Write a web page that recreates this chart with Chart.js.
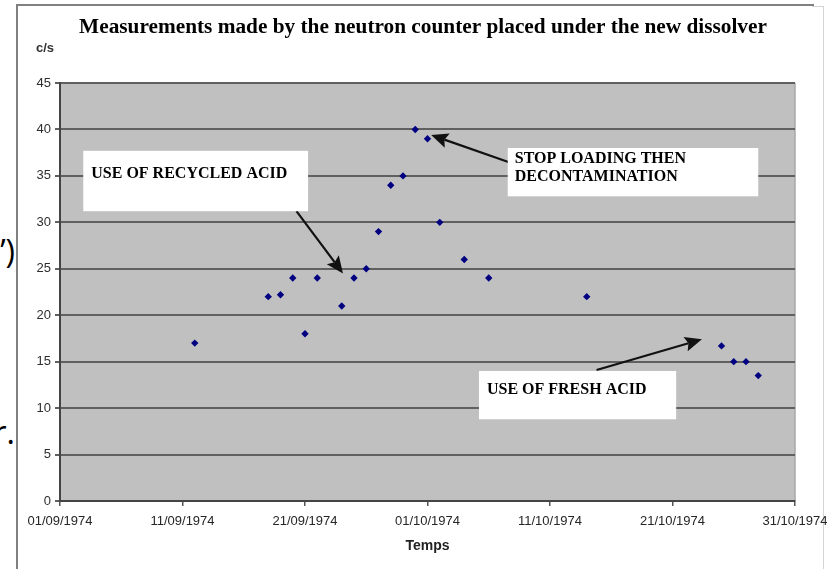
<!DOCTYPE html>
<html>
<head>
<meta charset="utf-8">
<script src="https://cdn.jsdelivr.net/npm/chart.js@4.4.1/dist/chart.umd.min.js"></script>
<style>
html,body{margin:0;padding:0;background:#fff;overflow:hidden;width:827px;height:569px;}
#wrap{position:relative;width:827px;height:569px;overflow:hidden;background:#fff;}
#frame{position:absolute;left:16px;top:4px;width:796px;height:580px;border-left:2px solid #808080;border-top:2px solid #808080;}
#frame2{position:absolute;left:812px;top:6px;width:11px;height:580px;border-top:1px solid #d4d4d4;border-right:1px solid #d4d4d4;}
canvas{position:absolute;left:0;top:0;}
.stray{position:absolute;right:812px;font-family:"Open Sans","Liberation Sans",sans-serif;font-size:32px;line-height:32px;color:#000;white-space:nowrap;text-align:right;}
</style>
</head>
<body>
<div id="wrap">
  <div class="stray" style="top:235px;">’)</div>
  <div class="stray" style="top:416px;">r.</div>
  <div id="frame"></div>
  <div id="frame2"></div>
  <canvas id="c" width="850" height="569"></canvas>
</div>
<script>
// ---- data ----
const dates = ['12/09/1974','18/09/1974','19/09/1974','20/09/1974','21/09/1974','22/09/1974','24/09/1974','25/09/1974','26/09/1974','27/09/1974','28/09/1974','29/09/1974','30/09/1974','01/10/1974','02/10/1974','04/10/1974','06/10/1974','14/10/1974','25/10/1974','26/10/1974','27/10/1974','28/10/1974'];
const counts = [17,22,22.2,24,18,24,21,24,25,29,34,35,40,39,30,26,24,22,16.7,15,15,13.5];
const xTickLabels = ['01/09/1974','11/09/1974','21/09/1974','01/10/1974','11/10/1974','21/10/1974','31/10/1974'];
const chartTitle = 'Measurements made by the neutron counter placed under the new dissolver';
const yUnit = 'c/s';
const xTitle = 'Temps';

// annotations (data coordinates: days since 01/09/1974, c/s)
const notes = [
  {box:[1.9,37.7,20.25,31.2], lines:['USE OF RECYCLED ACID'], arrow:[19.3,31.2,23.1,24.5]},
  {box:[36.55,38.0,57.0,32.8], lines:['STOP LOADING THEN','DECONTAMINATION'], arrow:[36.6,36.5,30.3,39.4]},
  {box:[34.2,14.0,50.3,8.8], lines:['USE OF FRESH ACID'], arrow:[43.8,14.1,52.4,17.4]}
];

const origin = Date.UTC(1974,8,1);
function dayOffset(s){const p=s.split('/').map(Number);return (Date.UTC(p[2],p[1]-1,p[0])-origin)/86400000;}
const points = dates.map((d,i)=>({x:dayOffset(d),y:counts[i]}));

function drawArrow(ctx,x1,y1,x2,y2){
  const a=Math.atan2(y2-y1,x2-x1), L=17, W=7.5, N=3;
  const bx=x2-L*Math.cos(a), by=y2-L*Math.sin(a);
  ctx.beginPath();ctx.moveTo(x1,y1);ctx.lineTo(bx+N*Math.cos(a),by+N*Math.sin(a));
  ctx.lineWidth=2.2;ctx.strokeStyle='#111';ctx.stroke();
  ctx.beginPath();ctx.moveTo(x2,y2);
  ctx.lineTo(bx-W*Math.sin(a),by+W*Math.cos(a));
  ctx.lineTo(bx+N*Math.cos(a),by+N*Math.sin(a));
  ctx.lineTo(bx+W*Math.sin(a),by-W*Math.cos(a));
  ctx.closePath();ctx.fillStyle='#111';ctx.fill();
}

const deco = {
  id:'deco',
  beforeDraw(chart){
    const {ctx,chartArea:a}=chart;
    ctx.save();
    ctx.fillStyle='#C0C0C0';
    ctx.fillRect(a.left,a.top,a.right-a.left,a.bottom-a.top);
    ctx.strokeStyle='#a8a8a8';ctx.lineWidth=1.5;
    ctx.beginPath();ctx.moveTo(a.right,a.top);ctx.lineTo(a.right,a.bottom);ctx.stroke();
    ctx.restore();
  },
  afterDraw(chart){
    const {ctx,scales:{x,y}}=chart;
    ctx.save();
    ctx.fillStyle='#000';
    ctx.font='bold 21.3px "Liberation Serif", serif';
    ctx.textAlign='center';ctx.textBaseline='alphabetic';
    ctx.fillText(chartTitle,423,33);
    ctx.fillStyle='#333';
    ctx.font='bold 13px "Liberation Sans", Arial, sans-serif';
    ctx.textBaseline='middle';
    ctx.fillText(yUnit,45,48);
    notes.forEach(n=>{
      const l=x.getPixelForValue(n.box[0]), t=y.getPixelForValue(n.box[1]);
      const r=x.getPixelForValue(n.box[2]), b=y.getPixelForValue(n.box[3]);
      drawArrow(ctx,x.getPixelForValue(n.arrow[0]),y.getPixelForValue(n.arrow[1]),x.getPixelForValue(n.arrow[2]),y.getPixelForValue(n.arrow[3]));
      ctx.fillStyle='#fff';ctx.fillRect(l,t,r-l,b-t);
      ctx.fillStyle='#000';
      ctx.font='bold 16px "Liberation Serif", serif';
      ctx.textAlign='left';ctx.textBaseline='middle';
      const h=b-t;
      if(n.lines.length===1){ctx.fillText(n.lines[0],l+8,t+h*0.38+0.5);}
      else{n.lines.forEach((s,i)=>ctx.fillText(s,l+7,t+11+i*18));}
    });
    ctx.restore();
  }
};

new Chart(document.getElementById('c'),{
  type:'scatter',
  data:{datasets:[{data:points,pointStyle:'rectRot',pointRadius:3.7,backgroundColor:'#000080',borderColor:'#000080',borderWidth:0}]},
  options:{
    responsive:false,animation:false,devicePixelRatio:1,
    layout:{padding:{left:20,right:55,top:83,bottom:0}},
    plugins:{legend:{display:false},tooltip:{enabled:false},title:{display:false}},
    scales:{
      x:{type:'linear',min:0,max:60,
        afterFit(s){s.height=68;},
        ticks:{stepSize:10,autoSkip:false,maxRotation:0,padding:8,color:'#262626',
          font:{family:'"Liberation Sans", Arial, sans-serif',size:13},
          callback:(v)=>xTickLabels[Math.round(v/10)]},
        grid:{drawOnChartArea:false,drawTicks:true,tickLength:5,color:'#555',lineWidth:1.5},
        border:{color:'#444',width:2},
        title:{display:true,text:xTitle,color:'#222',font:{family:'"Liberation Sans", Arial, sans-serif',size:14,weight:'bold'},padding:{top:4,bottom:14}}
      },
      y:{min:0,max:45,
        afterFit(s){s.width=40;},
        ticks:{stepSize:5,padding:4,color:'#2e2e2e',font:{family:'"Liberation Sans", Arial, sans-serif',size:13}},
        grid:{color:'#606060',lineWidth:2,tickLength:5},
        border:{color:'#444',width:2}
      }
    }
  },
  plugins:[deco]
});
</script>
</body>
</html>
